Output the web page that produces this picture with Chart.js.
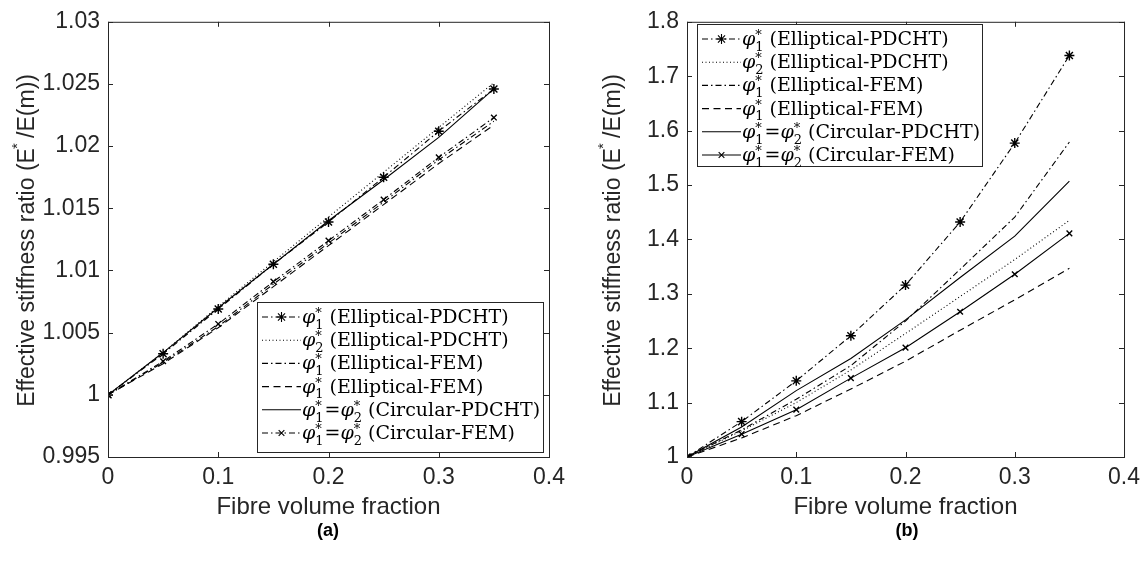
<!DOCTYPE html>
<html>
<head>
<meta charset="utf-8">
<script src="https://cdn.jsdelivr.net/npm/chart.js@4.4.0/dist/chart.umd.min.js"></script>
<style>
  body { margin: 0; background: #fff; width: 1147px; height: 571px; position: relative; overflow: hidden; }
  .panel { position: absolute; top: 0; }
  #pa { left: 0; }
  #pb { left: 573px; }
  .cap { position: absolute; top: 520px; width: 60px; text-align: center; font: bold 18px "Liberation Sans", Arial, sans-serif; color: #000; }
</style>
</head>
<body>
<div class="panel" id="pa"><canvas id="chartA" width="573" height="522"></canvas></div>
<div class="panel" id="pb"><canvas id="chartB" width="574" height="522"></canvas></div>
<div class="cap" style="left:298px">(a)</div>
<div class="cap" style="left:877px">(b)</div>
<script>
const fraction = [0, 0.05, 0.1, 0.15, 0.2, 0.25, 0.3, 0.35];
const xTicks = [0, 0.1, 0.2, 0.3, 0.4];

// panel (a)
const aEllPdchtPhi1 = [1, 1.0033, 1.0069, 1.0105, 1.0139, 1.0175, 1.0212, 1.0246];
const aEllPdchtPhi2 = [1, 1.0034, 1.0071, 1.0107, 1.0143, 1.0179, 1.0215, 1.0251];
const aEllFemPhi1 = [1, 1.0026, 1.0055, 1.0089, 1.0122, 1.0155, 1.0189, 1.0220];
const aEllFemPhi1b = [1, 1.0025, 1.0054, 1.0087, 1.0120, 1.0153, 1.0186, 1.0217];
const aCircPdcht = [1, 1.0034, 1.0070, 1.0105, 1.0140, 1.0173, 1.0207, 1.0246];
const aCircFem = [1, 1.0027, 1.0057, 1.0091, 1.0124, 1.0157, 1.0191, 1.0223];
const aYTicks = [0.995, 1, 1.005, 1.01, 1.015, 1.02, 1.025, 1.03];

// panel (b)
const bEllPdchtPhi1 = [1, 1.065, 1.140, 1.223, 1.316, 1.432, 1.577, 1.738];
const bEllPdchtPhi2 = [1, 1.048, 1.100, 1.160, 1.227, 1.295, 1.363, 1.435];
const bEllFemPhi1 = [1, 1.050, 1.106, 1.168, 1.250, 1.345, 1.441, 1.579];
const bEllFemPhi1b = [1, 1.035, 1.076, 1.125, 1.176, 1.233, 1.289, 1.347];
const bCircPdcht = [1, 1.055, 1.122, 1.181, 1.252, 1.330, 1.406, 1.507];
const bCircFem = [1, 1.042, 1.087, 1.145, 1.201, 1.267, 1.336, 1.411];
const bYTicks = [1, 1.1, 1.2, 1.3, 1.4, 1.5, 1.6, 1.7, 1.8];

// legend text: the phi indices and the bracketed name
const legendPhis = [[1], [2], [1], [1], [1, 2], [1, 2]];
const legendNames = ['(Elliptical-PDCHT)', '(Elliptical-PDCHT)', '(Elliptical-FEM)', '(Elliptical-FEM)', '(Circular-PDCHT)', '(Circular-FEM)'];

const DASHDOT = [6, 3, 1.5, 3];
const DASHED = [7, 4.5];
const DOTTED = [1, 2.5];
const SANS = '"Liberation Sans", Arial, sans-serif';

function makeDatasets(values, circFemDash) {
  const styles = [
    { dash: DASHDOT, point: 'star', r: 5 },
    { dash: DOTTED, point: false, r: 0 },
    { dash: DASHDOT, point: false, r: 0 },
    { dash: DASHED, point: false, r: 0 },
    { dash: [], point: false, r: 0 },
    { dash: circFemDash, point: 'crossRot', r: 4 },
  ];
  return values.map((vals, i) => ({
    label: legendNames[i],
    data: fraction.map((f, j) => ({ x: f, y: vals[j] })),
    borderColor: '#000',
    backgroundColor: '#000',
    borderWidth: 1.1,
    borderDash: styles[i].dash,
    pointStyle: styles[i].point || 'circle',
    pointRadius: styles[i].r,
    pointBorderWidth: 1.4,
    pointBorderColor: '#000',
    fill: false,
    tension: 0,
  }));
}

function drawPhi(ctx, x, y, idx, size) {
  ctx.font = 'italic ' + size + 'px "DejaVu Serif"';
  ctx.fillText('\u03C6', x, y);
  x += ctx.measureText('\u03C6').width;
  const small = Math.round(size * 0.66);
  ctx.font = small + 'px "DejaVu Serif"';
  ctx.fillText(String(idx), x, y + size * 0.3);
  ctx.fillText('*', x, y - size * 0.32);
  return x + 1 + Math.max(ctx.measureText(String(idx)).width, ctx.measureText('*').width);
}

const boxPlugin = {
  id: 'boxPlugin',
  afterDraw(chart, args, opts) {
    const { ctx, chartArea: a, scales } = chart;
    ctx.save();
    ctx.strokeStyle = '#262626';
    ctx.lineWidth = 1;
    ctx.setLineDash([]);
    ctx.strokeRect(a.left + 0.5, a.top + 0.5, a.right - a.left, a.bottom - a.top);
    const tl = 5;
    ctx.beginPath();
    opts.xTicks.forEach(v => {
      const px = Math.round(scales.x.getPixelForValue(v)) + 0.5;
      ctx.moveTo(px, a.bottom); ctx.lineTo(px, a.bottom - tl);
      ctx.moveTo(px, a.top); ctx.lineTo(px, a.top + tl);
    });
    opts.yTicks.forEach(v => {
      const py = Math.round(scales.y.getPixelForValue(v)) + 0.5;
      ctx.moveTo(a.left, py); ctx.lineTo(a.left + tl, py);
      ctx.moveTo(a.right, py); ctx.lineTo(a.right - tl, py);
    });
    ctx.stroke();

    // y axis title with raised asterisk
    const main = '23px ' + SANS;
    const sup = '15px ' + SANS;
    const p1 = 'Effective stiffness ratio (E', p2 = '*', p3 = ' /E(m))';
    ctx.font = main; const w1 = ctx.measureText(p1).width, w3 = ctx.measureText(p3).width;
    ctx.font = sup; const w2 = ctx.measureText(p2).width;
    const total = w1 + w2 + w3;
    ctx.translate(opts.titleX, (a.top + a.bottom) / 2);
    ctx.rotate(-Math.PI / 2);
    ctx.fillStyle = '#262626';
    ctx.textBaseline = 'middle';
    let x = -total / 2;
    ctx.font = main; ctx.fillText(p1, x, 0); x += w1;
    ctx.font = sup; ctx.fillText(p2, x - 1, -10); x += w2;
    ctx.font = main; ctx.fillText(p3, x - 2, 0);
    ctx.restore();

    // legend
    const [bx, by, bw, bh] = opts.legendBox;
    ctx.save();
    ctx.fillStyle = '#fff';
    ctx.fillRect(bx, by, bw, bh);
    ctx.strokeStyle = '#262626';
    ctx.lineWidth = 1;
    ctx.strokeRect(bx + 0.5, by + 0.5, bw, bh);
    const fsz = 19;
    chart.data.datasets.forEach((ds, i) => {
      const cy = by + 15 + i * 23.2;
      const x0 = bx + 5, x1 = bx + 44;
      ctx.strokeStyle = '#000';
      ctx.lineWidth = 1.1;
      ctx.setLineDash(ds.borderDash);
      ctx.beginPath(); ctx.moveTo(x0, cy); ctx.lineTo(x1, cy); ctx.stroke();
      ctx.setLineDash([]);
      if (ds.pointRadius > 0) {
        Chart.helpers.drawPoint(ctx, { pointStyle: ds.pointStyle, radius: ds.pointRadius, rotation: 0, borderWidth: 1.4 }, (x0 + x1) / 2, cy);
      }
      ctx.fillStyle = '#000';
      ctx.textBaseline = 'alphabetic';
      const base = cy + 6;
      let tx = x1 + 1;
      const phis = legendPhis[i];
      tx = drawPhi(ctx, tx, base, phis[0], fsz);
      if (phis.length > 1) {
        ctx.font = fsz + 'px "DejaVu Serif"';
        ctx.fillText('=', tx, base); tx += ctx.measureText('=').width;
        tx = drawPhi(ctx, tx, base, phis[1], fsz);
      }
      ctx.font = fsz + 'px "DejaVu Serif"';
      ctx.fillText(legendNames[i], tx + 5, base);
    });
    ctx.restore();
  }
};

function makeChart(id, datasets, yMin, yMax, yStep, yTicks, yWidth, padRight, titleX, legendBox) {
  const tickFont = { family: SANS, size: 23 };
  return new Chart(document.getElementById(id), {
    type: 'line',
    data: { datasets: datasets },
    options: {
      responsive: false,
      animation: false,
      devicePixelRatio: 1,
      layout: { padding: { left: 0, top: 16, right: padRight, bottom: 0 } },
      scales: {
        x: {
          type: 'linear', min: 0, max: 0.4,
          afterFit(scale) { scale.height = 65; },
          grid: { display: false, drawTicks: false },
          border: { display: false },
          ticks: { stepSize: 0.1, padding: 7, color: '#262626', font: tickFont,
            callback: v => String(+v.toFixed(2)) },
          title: { display: true, text: 'Fibre volume fraction', color: '#262626',
            font: { family: SANS, size: 24 }, padding: { top: 0, bottom: 0 } },
        },
        y: {
          type: 'linear', min: yMin, max: yMax,
          afterFit(scale) { scale.width = yWidth; },
          grid: { display: false, drawTicks: false },
          border: { display: false },
          ticks: { stepSize: yStep, padding: 8, color: '#262626', font: tickFont,
            callback: v => String(+v.toFixed(3)) },
        },
      },
      plugins: {
        legend: { display: false },
        tooltip: { enabled: false },
        boxPlugin: { xTicks: xTicks, yTicks: yTicks, titleX: titleX, legendBox: legendBox },
      },
    },
    plugins: [boxPlugin],
  });
}

makeChart('chartA',
  makeDatasets([aEllPdchtPhi1, aEllPdchtPhi2, aEllFemPhi1, aEllFemPhi1b, aCircPdcht, aCircFem], DASHDOT),
  0.995, 1.03, 0.005, aYTicks, 108, 24, 28, [257, 302, 286, 150]);

makeChart('chartB',
  makeDatasets([bEllPdchtPhi1, bEllPdchtPhi2, bEllFemPhi1, bEllFemPhi1b, bCircPdcht, bCircFem], []),
  1, 1.8, 0.1, bYTicks, 114, 19, 41, [124, 24, 285, 142]);
</script>
</body>
</html>
